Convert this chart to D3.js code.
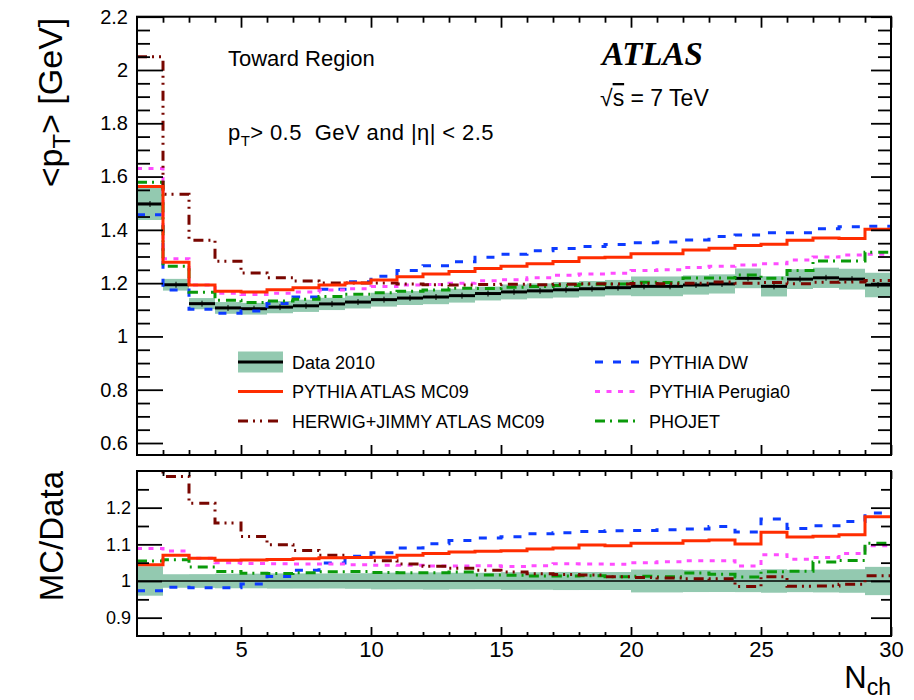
<!DOCTYPE html>
<html>
<head>
<meta charset="utf-8">
<script src="https://cdn.jsdelivr.net/npm/d3@7"></script>
<style>
  body { margin: 0; background: #fff; }
  svg { display: block; }
  text { font-family: "Liberation Sans", Arial, Helvetica, sans-serif; fill: #000; white-space: pre; }
</style>
</head>
<body>
<svg id="chart" width="914" height="700"></svg>
<script>
// Lower edges of the N_ch bins (each bin is one unit wide, last bin ends at 30)
const nchBins = [1, 2, 3, 4, 5, 6, 7, 8, 9, 10, 11, 12, 13, 14, 15, 16, 17, 18, 19, 20,
                 21, 22, 23, 24, 25, 26, 27, 28, 29];
const nchMax = 30;

// Data 2010: mean pT [GeV] and total uncertainty
const data2010 = [1.497, 1.194, 1.123, 1.107, 1.104, 1.110, 1.115, 1.122, 1.129, 1.138,
                  1.144, 1.148, 1.153, 1.161, 1.167, 1.171, 1.175, 1.179, 1.183, 1.188,
                  1.188, 1.193, 1.197, 1.218, 1.188, 1.215, 1.220, 1.215, 1.193];
const data2010Err = [0.060, 0.022, 0.021, 0.022, 0.022, 0.023, 0.023, 0.023, 0.024, 0.026,
                     0.026, 0.027, 0.026, 0.026, 0.028, 0.028, 0.029, 0.029, 0.029, 0.037,
                     0.037, 0.036, 0.036, 0.037, 0.038, 0.037, 0.038, 0.039, 0.046];

// Monte Carlo predictions, mean pT [GeV]
const pythiaMC09 = [1.563, 1.278, 1.193, 1.170, 1.167, 1.175, 1.183, 1.193, 1.201, 1.212,
                    1.224, 1.234, 1.244, 1.255, 1.263, 1.273, 1.281, 1.295, 1.297, 1.310,
                    1.310, 1.324, 1.331, 1.341, 1.346, 1.361, 1.369, 1.368, 1.402];
const herwigJimmy = [2.050, 1.534, 1.361, 1.282, 1.238, 1.220, 1.208, 1.201, 1.201, 1.201,
                     1.197, 1.194, 1.193, 1.195, 1.196, 1.194, 1.196, 1.198, 1.197, 1.199,
                     1.198, 1.200, 1.204, 1.200, 1.202, 1.198, 1.203, 1.204, 1.210];
const pythiaDW = [1.457, 1.174, 1.102, 1.087, 1.095, 1.124, 1.148, 1.177, 1.205, 1.226,
                  1.247, 1.265, 1.280, 1.297, 1.308, 1.322, 1.330, 1.338, 1.345, 1.352,
                  1.354, 1.362, 1.375, 1.381, 1.389, 1.389, 1.404, 1.412, 1.414];
const pythiaPerugia0 = [1.630, 1.292, 1.193, 1.162, 1.157, 1.162, 1.167, 1.174, 1.179, 1.187,
                        1.193, 1.195, 1.200, 1.209, 1.213, 1.220, 1.230, 1.234, 1.237, 1.247,
                        1.250, 1.259, 1.263, 1.268, 1.273, 1.287, 1.298, 1.306, 1.308];
const phojet = [1.579, 1.263, 1.166, 1.136, 1.127, 1.133, 1.140, 1.150, 1.158, 1.164,
                1.170, 1.174, 1.181, 1.180, 1.185, 1.187, 1.191, 1.196, 1.197, 1.203,
                1.202, 1.219, 1.219, 1.231, 1.218, 1.247, 1.283, 1.283, 1.316];

// Axis tick values
const xTickLabels = [5, 10, 15, 20, 25, 30];
const yTicksMain = [0.6, 0.8, 1, 1.2, 1.4, 1.6, 1.8, 2, 2.2];
const yTicksRatio = [0.9, 1, 1.1, 1.2];

// Series styles
const series = [
  { name: "PYTHIA DW",            values: pythiaDW,       color: "#0d3bff", dash: "8,10" },
  { name: "PYTHIA Perugia0",      values: pythiaPerugia0, color: "#ff4cff", dash: "5,6.5" },
  { name: "PHOJET",               values: phojet,         color: "#0a9a0a", dash: "10,5,2,6" },
  { name: "HERWIG+JIMMY ATLAS MC09", values: herwigJimmy, color: "#780600", dash: "10,5,2,5,2,6" },
  { name: "PYTHIA ATLAS MC09",    values: pythiaMC09,     color: "#ff2d00", dash: null }
];

const svg = d3.select("#chart");
svg.append("rect").attr("width", 914).attr("height", 700).attr("fill", "#fff");

const x = d3.scaleLinear().domain([1, nchMax]).range([137, 891]);
const yMain = d3.scaleLinear().domain([0.555, 2.2]).range([455, 16.7]);
const yRatio = d3.scaleLinear().domain([0.85, 1.3]).range([636, 471]);

const bandColor = "#93c9b0";

// Clip paths for the two pads
const defs = svg.append("defs");
defs.append("clipPath").attr("id", "clipMain").append("rect")
  .attr("x", x(1)).attr("y", yMain(2.2)).attr("width", x(nchMax) - x(1)).attr("height", yMain(0.555) - yMain(2.2));
defs.append("clipPath").attr("id", "clipRatio").append("rect")
  .attr("x", x(1)).attr("y", yRatio(1.3)).attr("width", x(nchMax) - x(1)).attr("height", yRatio(0.85) - yRatio(1.3));

function stepPoints(values) {
  const pts = nchBins.map((b, i) => [b, values[i]]);
  pts.push([nchMax, values[values.length - 1]]);
  return pts;
}

function drawPad(g, yScale, transform, withData) {
  const lineGen = d3.line().x(d => x(d[0])).y(d => yScale(d[1])).curve(d3.curveStepAfter);

  // uncertainty band
  g.append("g").selectAll("rect").data(nchBins).join("rect")
    .attr("x", d => x(d))
    .attr("width", d => x(d + 1) - x(d))
    .attr("y", (d, i) => yScale(transform.bandHi(i)))
    .attr("height", (d, i) => yScale(transform.bandLo(i)) - yScale(transform.bandHi(i)))
    .attr("fill", bandColor);

  if (withData) {
    g.append("g").selectAll("line").data(nchBins).join("line")
      .attr("x1", d => x(d)).attr("x2", d => x(d + 1))
      .attr("y1", (d, i) => yScale(data2010[i])).attr("y2", (d, i) => yScale(data2010[i]))
      .attr("stroke", "#000").attr("stroke-width", 3);
    g.append("g").selectAll("line").data(nchBins).join("line")
      .attr("x1", d => x(d + 0.5)).attr("x2", d => x(d + 0.5))
      .attr("y1", (d, i) => yScale(data2010[i]) - 3).attr("y2", (d, i) => yScale(data2010[i]) + 3)
      .attr("stroke", "#000").attr("stroke-width", 1);
  } else {
    g.append("line")
      .attr("x1", x(1)).attr("x2", x(nchMax))
      .attr("y1", yScale(1)).attr("y2", yScale(1))
      .attr("stroke", "#000").attr("stroke-width", 1.5);
  }

  series.forEach(s => {
    g.append("path")
      .attr("d", lineGen(stepPoints(transform.values(s.values))))
      .attr("fill", "none")
      .attr("stroke", s.color)
      .attr("stroke-width", 3)
      .attr("stroke-dasharray", s.dash)
      .attr("stroke-linejoin", "miter");
  });
}

// Main pad
const mainG = svg.append("g").attr("clip-path", "url(#clipMain)");
drawPad(mainG, yMain, {
  bandHi: i => data2010[i] + data2010Err[i],
  bandLo: i => data2010[i] - data2010Err[i],
  values: v => v
}, true);

// Ratio pad
const ratioG = svg.append("g").attr("clip-path", "url(#clipRatio)");
drawPad(ratioG, yRatio, {
  bandHi: i => 1 + data2010Err[i] / data2010[i],
  bandLo: i => 1 - data2010Err[i] / data2010[i],
  values: v => v.map((m, i) => m / data2010[i])
}, false);

// ---- Axes ----
const xMinor = d3.range(2, nchMax).filter(v => v % 5 !== 0);
const tickStroke = 1.8;

function styleAxis(sel, fontSize) {
  sel.select(".domain").remove();
  sel.selectAll(".tick line").attr("stroke", "#000").attr("stroke-width", tickStroke);
  sel.selectAll(".tick text").attr("font-size", fontSize).attr("fill", "#000");
}

function addAxis(gen, tx, ty, fontSize) {
  const g = svg.append("g").attr("transform", `translate(${tx},${ty})`).call(gen);
  styleAxis(g, fontSize || 10);
  return g;
}

const noLabel = () => "";
const fmtY = d => (Math.abs(d - Math.round(d)) < 1e-9 ? d3.format("d")(d) : d3.format(".1f")(d));

// main pad y axes
const yMinorMain = d3.range(0.6, 2.2001, 0.05).map(v => +v.toFixed(2)).filter(v => !yTicksMain.some(t => Math.abs(t - v) < 1e-6));
addAxis(d3.axisLeft(yMain).tickValues(yTicksMain).tickSizeInner(-26).tickSizeOuter(0).tickPadding(9).tickFormat(fmtY), 137, 0, 20);
addAxis(d3.axisLeft(yMain).tickValues(yMinorMain).tickSizeInner(-13).tickSizeOuter(0).tickFormat(noLabel), 137, 0);
addAxis(d3.axisRight(yMain).tickValues(yTicksMain).tickSizeInner(-20).tickSizeOuter(0).tickFormat(noLabel), 891, 0);
addAxis(d3.axisRight(yMain).tickValues(yMinorMain).tickSizeInner(-13).tickSizeOuter(0).tickFormat(noLabel), 891, 0);

// main pad x axes
addAxis(d3.axisTop(x).tickValues(xTickLabels).tickSizeInner(-11).tickSizeOuter(0).tickFormat(noLabel), 0, yMain(2.2));
addAxis(d3.axisTop(x).tickValues(xMinor).tickSizeInner(-6).tickSizeOuter(0).tickFormat(noLabel), 0, yMain(2.2));
addAxis(d3.axisBottom(x).tickValues(xTickLabels).tickSizeInner(-10).tickSizeOuter(0).tickFormat(noLabel), 0, yMain(0.555));
addAxis(d3.axisBottom(x).tickValues(xMinor).tickSizeInner(-5).tickSizeOuter(0).tickFormat(noLabel), 0, yMain(0.555));

// ratio pad y axes
const yMinorRatio = [0.95, 1.05, 1.15, 1.25];
addAxis(d3.axisLeft(yRatio).tickValues(yTicksRatio).tickSizeInner(-25).tickSizeOuter(0).tickPadding(6).tickFormat(fmtY), 137, 0, 18);
addAxis(d3.axisLeft(yRatio).tickValues(yMinorRatio).tickSizeInner(-12).tickSizeOuter(0).tickFormat(noLabel), 137, 0);
addAxis(d3.axisRight(yRatio).tickValues(yTicksRatio).tickSizeInner(-20).tickSizeOuter(0).tickFormat(noLabel), 891, 0);
addAxis(d3.axisRight(yRatio).tickValues(yMinorRatio).tickSizeInner(-10).tickSizeOuter(0).tickFormat(noLabel), 891, 0);

// ratio pad x axes
addAxis(d3.axisTop(x).tickValues(xTickLabels).tickSizeInner(-8).tickSizeOuter(0).tickFormat(noLabel), 0, yRatio(1.3));
addAxis(d3.axisTop(x).tickValues(xMinor).tickSizeInner(-5).tickSizeOuter(0).tickFormat(noLabel), 0, yRatio(1.3));
addAxis(d3.axisBottom(x).tickValues(xTickLabels).tickSizeInner(-9).tickSizeOuter(0).tickPadding(5).tickFormat(d3.format("d")), 0, yRatio(0.85), 22);
addAxis(d3.axisBottom(x).tickValues(xMinor).tickSizeInner(-4).tickSizeOuter(0).tickFormat(noLabel), 0, yRatio(0.85));

// pad frames
[[yMain(2.2), yMain(0.555)], [yRatio(1.3), yRatio(0.85)]].forEach(([top, bottom]) => {
  svg.append("rect")
    .attr("x", x(1)).attr("y", top)
    .attr("width", x(nchMax) - x(1)).attr("height", bottom - top)
    .attr("fill", "none").attr("stroke", "#000").attr("stroke-width", 2);
});

// ---- Axis titles ----
const yTitle = svg.append("text")
  .attr("transform", `translate(62,${yMain(2.2) + 1}) rotate(-90)`)
  .attr("text-anchor", "end").attr("font-size", 34);
yTitle.append("tspan").text("<p");
yTitle.append("tspan").attr("font-size", 24).attr("dy", 8).text("T");
yTitle.append("tspan").attr("dy", -8).text("> [GeV]");

svg.append("text")
  .attr("transform", `translate(63,${yRatio(1.3)}) rotate(-90)`)
  .attr("text-anchor", "end").attr("font-size", 33).text("MC/Data");

const xTitle = svg.append("text")
  .attr("x", x(nchMax)).attr("y", 688).attr("text-anchor", "end").attr("font-size", 31);
xTitle.append("tspan").text("N");
xTitle.append("tspan").attr("font-size", 23).attr("dy", 7).text("ch");

// ---- Annotations ----
svg.append("text").attr("x", 228).attr("y", 66).attr("font-size", 22).text("Toward Region");

const cut = svg.append("text").attr("x", 228).attr("y", 140).attr("font-size", 22)
  .style("letter-spacing", "0.4px");
cut.append("tspan").text("p");
cut.append("tspan").attr("font-size", 15).attr("dy", 6).text("T");
cut.append("tspan").attr("dy", -6).text("> 0.5  GeV and |η| < 2.5");

svg.append("text").attr("x", 602).attr("y", 65)
  .style("font-family", "'Liberation Serif', 'Times New Roman', serif")
  .style("font-weight", "bold").style("font-style", "italic").attr("font-size", 33)
  .text("ATLAS");

const energy = svg.append("text").attr("x", 600).attr("y", 106).attr("font-size", 23);
energy.append("tspan").text("√");
energy.append("tspan").style("text-decoration", "overline").text("s");
energy.append("tspan").text(" = 7 TeV");

// ---- Legend ----
const legendRows = [
  { col: 0, row: 0, label: "Data 2010", kind: "data" },
  { col: 0, row: 1, label: "PYTHIA ATLAS MC09", s: series[4] },
  { col: 0, row: 2, label: "HERWIG+JIMMY ATLAS MC09", s: series[3] },
  { col: 1, row: 0, label: "PYTHIA DW", s: series[0] },
  { col: 1, row: 1, label: "PYTHIA Perugia0", s: series[1] },
  { col: 1, row: 2, label: "PHOJET", s: series[2] }
];
const legX = [238, 595];
const legY0 = 362, legDy = 29.5, legLen = 45;
legendRows.forEach(r => {
  const lx = legX[r.col], ly = legY0 + r.row * legDy;
  if (r.kind === "data") {
    svg.append("rect").attr("x", lx).attr("y", ly - 10.5).attr("width", legLen).attr("height", 21).attr("fill", bandColor);
    svg.append("line").attr("x1", lx).attr("x2", lx + legLen).attr("y1", ly).attr("y2", ly)
      .attr("stroke", "#000").attr("stroke-width", 3);
  } else {
    svg.append("line").attr("x1", lx).attr("x2", lx + legLen).attr("y1", ly).attr("y2", ly)
      .attr("stroke", r.s.color).attr("stroke-width", 3).attr("stroke-dasharray", r.s.dash);
  }
  svg.append("text").attr("x", lx + 54).attr("y", ly + 6.5).attr("font-size", 18).text(r.label);
});
</script>
</body>
</html>
